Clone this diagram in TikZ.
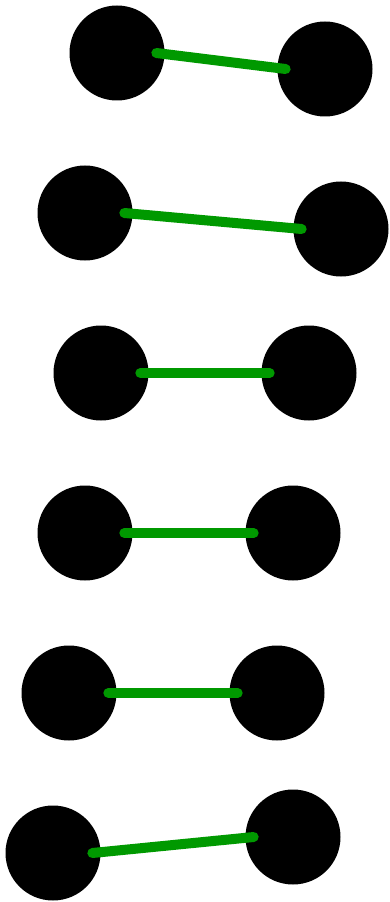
\documentclass[tikz,border=0pt]{standalone}
\usepackage{xcolor}
\usepackage{tikz}
\definecolor{BondGreen}{HTML}{009900}

\begin{document}
\begin{tikzpicture}[
  x=0.75pt, y=-0.75pt,
  ball/.style={circle, fill=black, inner sep=0pt, minimum size=71.25pt},
  bond/.style={line width=7.5pt, line cap=round, draw=BondGreen}
]
\useasboundingbox (0,0) rectangle (389,902);
\node[ball] (a1) at (117,53) {};
\node[ball] (b1) at (325,69) {};
\node[ball] (a2) at (85,213) {};
\node[ball] (b2) at (341,229) {};
\node[ball] (a3) at (101,373) {};
\node[ball] (b3) at (309,373) {};
\node[ball] (a4) at (85,533) {};
\node[ball] (b4) at (293,533) {};
\node[ball] (a5) at (69,693) {};
\node[ball] (b5) at (277,693) {};
\node[ball] (a6) at (53,853) {};
\node[ball] (b6) at (293,837) {};
\draw[bond] ([xshift=29.5pt]a1.center) -- ([xshift=-29.5pt]b1.center);
\draw[bond] ([xshift=29.5pt]a2.center) -- ([xshift=-29.5pt]b2.center);
\draw[bond] ([xshift=29.5pt]a3.center) -- ([xshift=-29.5pt]b3.center);
\draw[bond] ([xshift=29.5pt]a4.center) -- ([xshift=-29.5pt]b4.center);
\draw[bond] ([xshift=29.5pt]a5.center) -- ([xshift=-29.5pt]b5.center);
\draw[bond] ([xshift=29.5pt]a6.center) -- ([xshift=-29.5pt]b6.center);
\end{tikzpicture}
\end{document}
